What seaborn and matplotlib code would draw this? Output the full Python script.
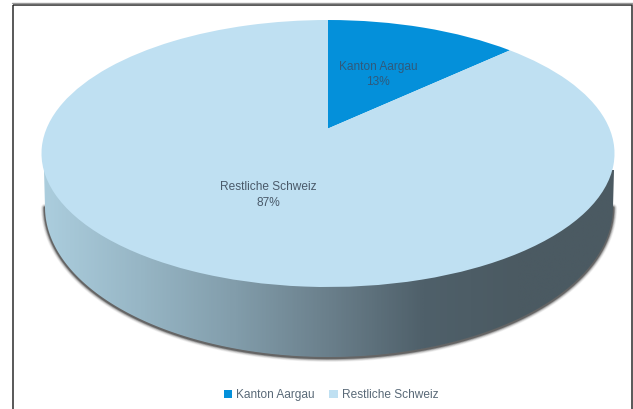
import numpy as np
import matplotlib
matplotlib.use("Agg")
import matplotlib.pyplot as plt
from matplotlib.patches import Polygon, Rectangle
from matplotlib.transforms import Transform
import seaborn as sns

categories = ["Kanton Aargau", "Restliche Schweiz"]
values = [13, 87]
slice_colors = ["#0490DA", "#BFE0F2"]
side_stops = ["#ABCDDD", "#97B6C5", "#829DAB", "#6A7F8B", "#4F606A", "#4B5A62", "#4B5A62"]
text_color = "#4A5A6A"

sns.set_theme(style="white")
plt.rcParams["font.family"] = ["Liberation Sans Narrow", "Liberation Sans", "DejaVu Sans"]

CX, CY, RX, RY = 328.0, 153.5, 286.5, 133.5
TILT = 0.187


class Perspective(Transform):
    input_dims = output_dims = 2
    is_separable = False
    has_inverse = False

    def transform_non_affine(self, xy):
        xy = np.asarray(xy, float)
        x, y = xy[:, 0], xy[:, 1]
        d = 1 + TILT * y
        return np.column_stack([CX + RX * x * np.sqrt(1 - TILT ** 2) / d,
                                CY - RY * (y + TILT) / d])


fig = plt.figure(figsize=(6.33, 4.09), dpi=100, facecolor="white")
ax = fig.add_axes([0, 0, 1, 1])

wedges, _ = ax.pie(values, colors=slice_colors, startangle=90, counterclock=False,
                   radius=1, center=(0, 0), wedgeprops={"linewidth": 0})
persp = Perspective()
for w in wedges:
    w.set_transform(persp + ax.transData)
    w.set_zorder(5)

ax.set_aspect("auto")
ax.set_xlim(0, 633)
ax.set_ylim(409, 0)
ax.axis("off")

# pie side: gradient clipped to the lower rim
lx, ly, lrx, lry = 329.0, 207.0, 284.0, 150.0
t = np.linspace(0, np.pi, 200)
rim_x = lx + lrx * np.cos(t)
rim_y = ly + lry * np.sin(t)
outline = np.column_stack([np.r_[rim_x, 44, 614], np.r_[rim_y, 170, 170]])

# soft shadow along the lower rim
mask = rim_y > 197
for lw, a in [(6, 0.05), (5, 0.08), (4, 0.12), (3, 0.2), (2, 0.35)]:
    ax.plot(rim_x[mask], rim_y[mask] + 0.8, color="black", lw=lw, alpha=a, zorder=1,
            solid_capstyle="round")

grad = np.array(sns.blend_palette(side_stops, 400))[None, :, :]
im = ax.imshow(grad, extent=(44, 614, 360, 160), aspect="auto", zorder=2, interpolation="bilinear")
im.set_clip_path(Polygon(outline, closed=True, transform=ax.transData))
ax.set_xlim(0, 633)
ax.set_ylim(409, 0)

# chart frame
ax.add_patch(Rectangle((12.5, 4.5), 619.5, 420, fill=False, ec="#2B2B2B", lw=1.1, zorder=6))
ax.plot([12, 633], [3.2, 3.2], color="#9A9A9A", lw=1, zorder=6)

# data labels
ax.text(378, 74.5, f"{categories[0]}\n{values[0]}%", ha="center", va="center", fontsize=8.6,
        color="#2F5A7C", linespacing=1.42, zorder=7)
ax.text(268.5, 195, f"{categories[1]}\n{values[1]}%", ha="center", va="center", fontsize=8.6,
        color=text_color, linespacing=1.42, zorder=7)

leg = ax.legend(wedges, categories, loc="center", bbox_to_anchor=(331 / 633, 1 - 395 / 409),
                ncol=2, frameon=False, fontsize=8.6, handlelength=0.7, handleheight=0.7,
                handletextpad=0.35, columnspacing=1.2, labelcolor="#5A6A78")
leg.set_zorder(7)

fig.savefig("out.png", dpi=100)
